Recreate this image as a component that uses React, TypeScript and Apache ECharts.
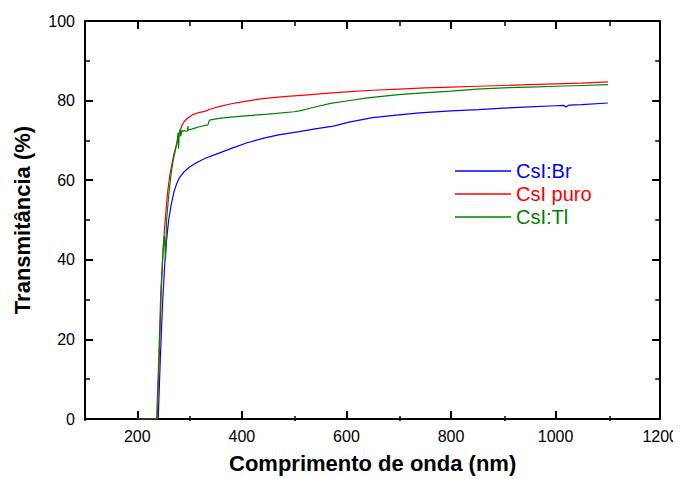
import React, { useEffect, useRef } from "react";
import * as echarts from "echarts";

// Data: [wavelength (nm), transmittance (%)]
const csiBr: [number, number][] = [
  [200, 0], [240, 0], [244, 15], [248, 28], [252, 38], [256, 45], [260, 50], [265, 54],
  [270, 57], [275, 59], [280, 60.5], [290, 62.2], [300, 63.3], [313, 64.4], [330, 65.5],
  [350, 66.5], [380, 68], [410, 69.4], [440, 70.5], [470, 71.4], [510, 72.2], [540, 72.9],
  [575, 73.6], [605, 74.6], [650, 75.7], [700, 76.4], [740, 76.9], [800, 77.4], [853, 77.75],
  [900, 78.1], [950, 78.4], [1000, 78.7], [1015, 78.8], [1020, 78.4], [1025, 78.85],
  [1050, 79], [1100, 79.4],
];

const csiPuro: [number, number][] = [
  [200, 0], [238, 0], [242, 15], [246, 33], [250, 44], [254, 51], [258, 57], [262, 61],
  [266, 64], [270, 66.5], [275, 69], [280, 71.5], [285, 73.6], [290, 74.8], [297, 75.7],
  [305, 76.4], [315, 76.9], [329, 77.3], [340, 77.9], [360, 78.6], [380, 79.2], [400, 79.7],
  [440, 80.5], [480, 81], [520, 81.4], [560, 81.8], [600, 82.2], [650, 82.6], [700, 82.9],
  [750, 83.2], [800, 83.4], [850, 83.6], [900, 83.8], [950, 84], [1000, 84.2], [1050, 84.4],
  [1100, 84.7],
];

const csiTl: [number, number][] = [
  [200, 0], [237, 0], [241, 15], [245, 32], [249, 42], [252, 46], [254, 40], [256, 50],
  [260, 56], [264, 61], [268, 64.5], [272, 67], [276, 69.5], [278, 72], [279, 68],
  [280, 71.5], [282, 72.9], [283, 71], [285, 72.5], [287, 72.2], [290, 72.5], [293, 72.3],
  [296, 72.4], [297, 73.6], [298, 72.6], [310, 73.1], [320, 73.5], [335, 73.9], [338, 75.1],
  [345, 75.3], [360, 75.6], [400, 76.1], [450, 76.6], [500, 77.2], [510, 77.4], [540, 78.4],
  [570, 79.3], [600, 79.9], [640, 80.7], [700, 81.5], [740, 81.9], [800, 82.4], [850, 82.9],
  [900, 83.2], [950, 83.4], [1000, 83.6], [1050, 83.8], [1100, 84],
];

const seriesNames = ["CsI:Br", "CsI puro", "CsI:Tl"];
const seriesColors = ["#0000ff", "#ff0000", "#008000"];
const xMajorTicks = [200, 400, 600, 800, 1000, 1200];
const xMinorTicks = [100, 300, 500, 700, 900, 1100];

const FONT = 'Arial, "Liberation Sans", Helvetica, sans-serif';

export default function App() {
  const ref = useRef<HTMLDivElement>(null);

  useEffect(() => {
    if (!ref.current) return;
    const chart = echarts.init(ref.current, undefined, { renderer: "svg" });
    const gridBox = { left: 85, right: 19, top: 21, bottom: 58 };
    const axisLine = { show: true, onZero: false, lineStyle: { color: "#000", width: 2 } };
    const plain = (v: number) => String(v);

    const majorX = (pos: "bottom" | "top", labels: boolean) => ({
      type: "value",
      gridIndex: 0,
      position: pos,
      min: 100,
      max: 1200,
      axisLine,
      axisTick: { show: true, inside: true, length: 8, customValues: xMajorTicks, lineStyle: { color: "#000", width: 2 } },
      axisLabel: labels
        ? { show: true, customValues: xMajorTicks, formatter: plain, color: "#000", fontSize: 16, fontFamily: FONT, margin: 9 }
        : { show: false },
      splitLine: { show: false },
      ...(labels
        ? {
            name: "Comprimento de onda (nm)",
            nameLocation: "middle",
            nameGap: 33,
            nameTextStyle: { color: "#000", fontSize: 22, fontWeight: "bold", fontFamily: FONT },
          }
        : {}),
    });
    const minorX = (pos: "bottom" | "top") => ({
      type: "value",
      gridIndex: 1,
      position: pos,
      min: 100,
      max: 1200,
      axisLine: { show: false },
      axisTick: { show: true, inside: true, length: 5, customValues: xMinorTicks, lineStyle: { color: "#000", width: 1.5 } },
      axisLabel: { show: false },
      splitLine: { show: false },
    });
    const yAx = (pos: "left" | "right", labels: boolean) => ({
      type: "value",
      gridIndex: 0,
      position: pos,
      min: 0,
      max: 100,
      interval: 20,
      axisLine,
      axisTick: { show: true, inside: true, length: 8, lineStyle: { color: "#000", width: 2 } },
      minorTick: { show: true, splitNumber: 2, length: 5, lineStyle: { color: "#000", width: 1.5 } },
      axisLabel: labels
        ? { show: true, formatter: plain, color: "#000", fontSize: 16, fontFamily: FONT, margin: 10 }
        : { show: false },
      splitLine: { show: false },
      ...(labels
        ? {
            name: "Transmitância (%)",
            nameLocation: "middle",
            nameGap: 52,
            nameTextStyle: { color: "#000", fontSize: 22, fontWeight: "bold", fontFamily: FONT },
          }
        : {}),
    });

    const dataSets = [csiBr, csiPuro, csiTl];

    chart.setOption({
      animation: false,
      backgroundColor: "#fff",
      grid: [
        { ...gridBox, containLabel: false },
        { ...gridBox, containLabel: false },
      ],
      xAxis: [majorX("bottom", true), majorX("top", false), minorX("bottom"), minorX("top")],
      yAxis: [
        yAx("left", true),
        yAx("right", false),
        { type: "value", gridIndex: 1, show: false, min: 0, max: 100 },
      ],
      legend: {
        orient: "vertical",
        left: 455,
        top: 161,
        padding: 0,
        itemGap: 3,
        itemWidth: 56,
        itemHeight: 1.5,
        icon: "rect",
        textStyle: { fontSize: 20, fontFamily: FONT },
        data: seriesNames.map((n, i) => ({ name: n, textStyle: { color: seriesColors[i] } })),
      },
      series: dataSets.map((d, i) => ({
        name: seriesNames[i],
        type: "line",
        xAxisIndex: 0,
        yAxisIndex: 0,
        data: d,
        showSymbol: false,
        symbol: "none",
        color: seriesColors[i],
        lineStyle: { color: seriesColors[i], width: 1.2 },
      })),
    });
    return () => chart.dispose();
  }, []);

  return <div ref={ref} style={{ width: 681, height: 479, marginLeft: -8, marginTop: -8 }} />;
}
